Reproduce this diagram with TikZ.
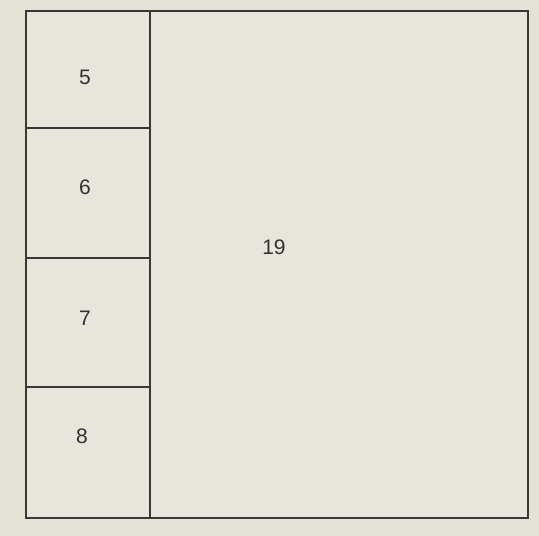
\documentclass[tikz,border=0pt]{standalone}
\usepackage{fontspec}
\setmainfont{Liberation Sans}
\definecolor{paper}{RGB}{228,225,215}
\definecolor{inner}{RGB}{232,229,221}
\definecolor{ink}{RGB}{60,55,55}
\definecolor{txt}{RGB}{50,48,48}
\begin{document}
\begin{tikzpicture}[x=1pt,y=-1pt,
  wall/.style={draw=ink,line width=1.3pt},
  lbl/.style={text=txt,font=\fontsize{21}{21}\selectfont,inner sep=0pt}]
\fill[paper] (0,0) rectangle (539,536);
\useasboundingbox (0,0) rectangle (539,536);
\fill[inner] (26,11) rectangle (528,518);
\coordinate (tl) at (26,11);
\coordinate (br) at (528,518);
\draw[wall] (tl) rectangle (br);
\coordinate (vt) at (150,11);
\coordinate (vb) at (150,518);
\draw[wall] (vt) -- (vb);
\coordinate (h1l) at (26,128); \coordinate (h1r) at (150,128);
\coordinate (h2l) at (26,258); \coordinate (h2r) at (150,258);
\coordinate (h3l) at (26,387); \coordinate (h3r) at (150,387);
\draw[wall] (h1l) -- (h1r);
\draw[wall] (h2l) -- (h2r);
\draw[wall] (h3l) -- (h3r);
\node[lbl] (n5) at (85,77) {5};
\node[lbl] (n6) at (85,187) {6};
\node[lbl] (n7) at (85,318) {7};
\node[lbl] (n8) at (82,436) {8};
\node[lbl] (n19) at (274,247) {19};
\end{tikzpicture}
\end{document}
